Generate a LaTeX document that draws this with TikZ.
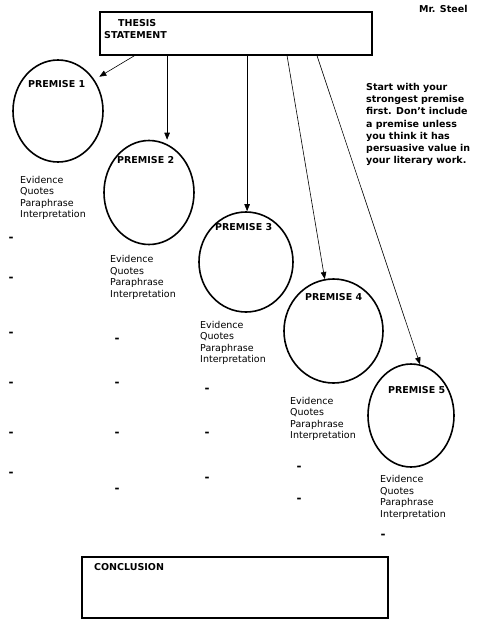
\documentclass[tikz,border=0pt]{standalone}
\usepackage{fontspec}
\setmainfont{DejaVu Sans}
\usetikzlibrary{arrows.meta,shapes.geometric,calc}
\begin{document}
\begin{tikzpicture}[x=1pt,y=-1pt,
  bigbox/.style={draw, line width=1.8pt, inner sep=0pt},
  oval/.style={draw, ellipse, line width=1.6pt, inner sep=0pt},
  lab/.style={anchor=base west, inner sep=0pt, font=\fontsize{9.5}{11}\selectfont\bfseries},
  txt/.style={anchor=base west, inner sep=0pt, font=\fontsize{9.5}{11.5}\selectfont},
  dashmark/.style={anchor=base, inner sep=0pt, font=\fontsize{12}{13}\selectfont\bfseries},
  conn/.style={line width=0.6pt, -{Triangle[length=7pt,width=5.5pt]}}]
\useasboundingbox (0,0) rectangle (477,622);
\fill[white] (0,0) rectangle (477,622);

% boxes
\node[bigbox, minimum width=272pt, minimum height=43pt] (thesis) at (236,33.5) {};
\node[bigbox, minimum width=306pt, minimum height=61pt] (concl) at (235,587.5) {};
\node[lab] (tl1) at (118,26) {THESIS};
\node[lab] (tl2) at (104,38) {STATEMENT};
\node[lab] (cl) at (94,570) {CONCLUSION};
\node[lab] (author) at (419,12) {Mr. Steel};

% premises
\node[oval, minimum width=90pt, minimum height=102pt] (p1) at (58,111) {};
\node[oval, minimum width=90pt, minimum height=104pt] (p2) at (149,192.5) {};
\node[oval, minimum width=94pt, minimum height=100pt] (p3) at (246,262) {};
\node[oval, minimum width=99pt, minimum height=104pt] (p4) at (333.5,331) {};
\node[oval, minimum width=86pt, minimum height=103pt] (p5) at (411,415.5) {};
\node[lab] (pl1) at (28,87.5) {PREMISE 1};
\node[lab] (pl2) at (117,163) {PREMISE 2};
\node[lab] (pl3) at (215,230) {PREMISE 3};
\node[lab] (pl4) at (305,300) {PREMISE 4};
\node[lab] (pl5) at (388,393) {PREMISE 5};

% connectors
\coordinate (a1) at ($(thesis.south west)+(35,0)$);
\coordinate (a2) at ($(thesis.south west)+(68,0)$);
\coordinate (a3) at ($(thesis.south west)+(148,0)$);
\coordinate (a4) at ($(thesis.south west)+(188,0)$);
\coordinate (a5) at ($(thesis.south west)+(218,0)$);
\draw[conn] (a1) -- ($(p1.45)+(7,0)$);
\draw[conn] (a2) -- (a2 |- p2.north);
\draw[conn] (a3) -- (a3 |- p3.north);
\draw[conn] (a4) -- (p4);
\draw[conn] (a5) -- (p5.80);

% evidence lists
\foreach \n/\x/\y in {1/20/183, 2/110/262.7, 3/200/328.3, 4/290/404, 5/380/482.7} {
  \foreach \w [count=\k from 0] in {Evidence,Quotes,Paraphrase,Interpretation}
    \node[txt] (ev\n-\k) at (\x,\y+11.5*\k) {\w};
}

% dashes
\foreach \x/\y [count=\i] in {11/238, 11/278, 11/333, 11/383, 11/433, 11/473,
  117/339, 117/383, 117/433, 117/489,
  207/389, 207/433, 207/478,
  299/467, 299/499,
  383/535}
  \node[dashmark] (d\i) at (\x,\y+3.2) {-};

% note
\foreach \w [count=\k from 0] in {Start with your, strongest premise, first. Don't include, a premise unless, you think it has, persuasive value in, your literary work.}
  \node[lab] (note\k) at (366,90.5+12.2*\k) {\w};
\end{tikzpicture}
\end{document}
